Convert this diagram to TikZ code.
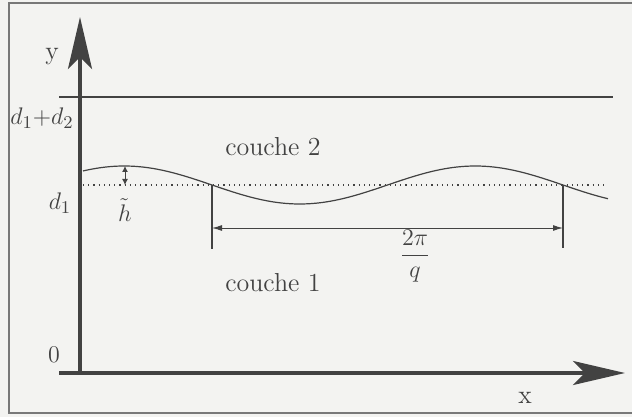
\documentclass[tikz,border=0pt]{standalone}
\usepackage{amsmath,amssymb}
\usepackage{xcolor}
\usepackage{tikz}
\usetikzlibrary{arrows.meta,positioning}
\definecolor{inkgray}{RGB}{66,66,66}
\definecolor{framegray}{RGB}{120,120,120}
\definecolor{papergray}{RGB}{243,243,241}
\tikzset{
  axis/.style={line width=2pt, draw=inkgray,
               -{Stealth[length=26pt, width=12pt, inset=6pt]}},
  level/.style={line width=1.4pt, draw=inkgray},
  wave/.style={line width=0.6pt, draw=inkgray},
  guide/.style={line width=0.6pt, draw=inkgray},
  dimarr/.style={line width=0.5pt, draw=inkgray, {Latex[length=5pt,width=3pt]}-{Latex[length=5pt,width=3pt]}},
  lbl/.style={font=\fontsize{13}{15}\selectfont, text=inkgray, inner sep=1pt},
}

\begin{document}
\begin{tikzpicture}[x=0.5pt, y=-0.5pt]
        \useasboundingbox[fill=papergray] (0,0) rectangle (632,417);
        % cadre
        \draw[framegray, line width=0.6pt] (640,3) -- (9,3) -- (9,413) -- (640,413);
        % axes
        \coordinate (o) at (80,373);
        \coordinate (xs) at (59,373);
        \coordinate (xe) at (625,373);
        \coordinate (ye) at (80,17);
        \draw[axis] (xs) -- (xe);
        \draw[axis] (o) -- (ye);
        \node[lbl] (ylab) at (52,57) {y};
        \node[lbl] (xlab) at (525,398) {x};
        \node[lbl] (zero) at (54,355) {$0$};
        % interface haute
        \coordinate (tl) at (59,97);
        \coordinate (tr) at (613,97);
        \draw[level] (tl) -- (tr);
        \node[lbl] (dd) at (42,118) {$d_1{+}d_2$};
        \node[lbl] (d1) at (60,203) {$d_1$};
        % interface ondulee
        \coordinate (ml) at (83,185);
        \coordinate (mr) at (605,185);
        \draw[inkgray, line width=0.6pt, dotted] (ml) -- (mr);
        \draw[wave] plot[domain=83:608, samples=120, smooth]
              (\x, {185+19*sin(1.02564*(\x-212))});
        % amplitude
        \coordinate (ha) at (125,166);
        \coordinate (hb) at (125,185);
        \draw[line width=0.5pt, inkgray, {Latex[length=3pt,width=3pt]}-{Latex[length=3pt,width=3pt]}] (ha) -- (hb);
        \node[lbl] (hlab) at (125,210) {$\tilde h$};
        % longueur d'onde
        \coordinate (la) at (212,185);
        \coordinate (lb) at (212,249);
        \coordinate (ra) at (563,185);
        \coordinate (rb) at (563,248);
        \draw[guide] (la) -- (lb);
        \draw[guide] (ra) -- (rb);
        \coordinate (wa) at (212,228);
        \coordinate (wb) at (563,228);
        \draw[dimarr] (wa) -- (wb);
        \node[lbl] (wlab) at (415,256) {$\dfrac{2\pi}{q}$};
        % couches
        \node[lbl] (c2) at (273,147) {couche 2};
        \node[lbl] (c1) at (273,283) {couche 1};
      \end{tikzpicture}
\end{document}
